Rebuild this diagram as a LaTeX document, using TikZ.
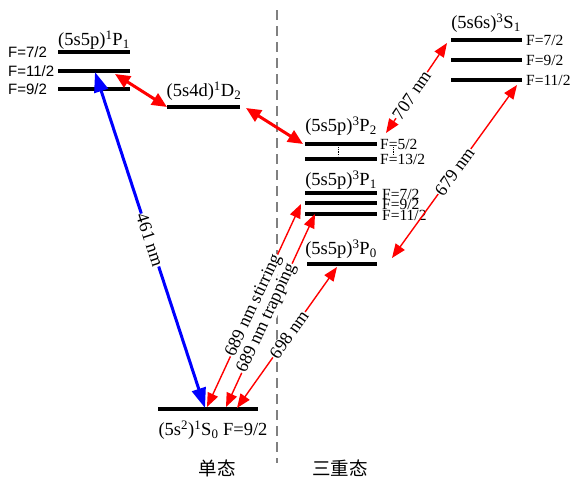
\documentclass[tikz,border=0pt]{standalone}
\usepackage{fontspec}
\setmainfont{Liberation Serif}
\newfontfamily\cjk{Noto Sans CJK SC}
\newfontfamily\arialf{Liberation Sans}
\usetikzlibrary{arrows.meta}
\begin{document}
\begin{tikzpicture}[x=1pt,y=-1pt,
  lvl/.style={line width=3.5pt},
  lab/.style={font=\fontsize{18.5}{20}\selectfont, inner sep=0pt},
  flab/.style={font=\fontsize{15.5}{16}\selectfont, inner sep=0pt, anchor=west},
  slab/.style={font=\arialf\fontsize{15}{16}\selectfont, inner sep=0pt, anchor=west},
  thinred/.style={red, line width=1.4pt, {Triangle[length=14pt,width=11pt]}-{Triangle[length=14pt,width=11pt]}},
  thickred/.style={red, line width=3pt, {Triangle[length=15pt,width=13pt]}-{Triangle[length=15pt,width=13pt]}},
  bluearr/.style={blue, line width=3pt, {Triangle[length=20pt,width=14pt]}-{Triangle[length=20pt,width=14pt]}},
  wl/.style={font=\fontsize{18}{20}\selectfont, text=black, fill=white, sloped, inner sep=0.5pt}
]
\useasboundingbox (0,0) rectangle (572,482);
% separator
\draw[gray, line width=1.3pt, dash pattern=on 10pt off 6pt] (277,10) -- (277,463);
\node[lab] (single) at (217,468) {\cjk 单态};
\node[lab] (triple) at (340,468) {\cjk 三重态};
% 1P1
\draw[lvl] (58,52) -- (130,52);
\draw[lvl] (58,71) -- (130,71);
\draw[lvl] (58,89) -- (130,89);
\node[lab] (P1lab) at (94,40) {(5s5p)\textsuperscript{1}P\textsubscript{1}};
\node[slab] (P1f1) at (8,52) {F=7/2};
\node[slab] (P1f2) at (8,71) {F=11/2};
\node[slab] (P1f3) at (8,89) {F=9/2};
% 1D2
\draw[lvl] (167,107) -- (240,107);
\node[lab] (D2lab) at (204,91) {(5s4d)\textsuperscript{1}D\textsubscript{2}};
% 3S1
\draw[lvl] (451,40) -- (522,40);
\draw[lvl] (451,60) -- (522,60);
\draw[lvl] (451,80) -- (522,80);
\node[lab] (S1lab) at (486,23) {(5s6s)\textsuperscript{3}S\textsubscript{1}};
\node[flab] (S1f1) at (526,40) {F=7/2};
\node[flab] (S1f2) at (526,60) {F=9/2};
\node[flab] (S1f3) at (526,80) {F=11/2};
% 3P2
\draw[lvl] (305,144) -- (377,144);
\draw[lvl] (305,159) -- (377,159);
\draw[densely dotted, line width=0.8pt] (338,147) -- (338,156);
\node[lab] (P2lab) at (341,126) {(5s5p)\textsuperscript{3}P\textsubscript{2}};
\node[flab] (P2f1) at (380,144) {F=5/2};
\node[flab] (P2f2) at (380,159) {F=13/2};
\draw[densely dotted, line width=0.8pt] (393,147) -- (393,155);
% 3P1
\draw[lvl] (305,193) -- (377,193);
\draw[lvl] (305,203) -- (377,203);
\draw[lvl] (305,214) -- (377,214);
\node[lab] (P1tlab) at (341,180) {(5s5p)\textsuperscript{3}P\textsubscript{1}};
\node[flab] (P1tf1) at (382,194) {F=7/2};
\node[flab] (P1tf2) at (382,204) {F=9/2};
\node[flab] (P1tf3) at (382,215) {F=11/2};
% 3P0
\draw[lvl] (307,264) -- (377,264);
\node[lab] (P0lab) at (341,249) {(5s5p)\textsuperscript{3}P\textsubscript{0}};
% 1S0
\draw[lvl] (158,409) -- (258,409);
\node[lab] (S0lab) at (213,430) {(5s\textsuperscript{2})\textsuperscript{1}S\textsubscript{0} F=9/2};
% arrow end points
\coordinate (bP) at (95,72);
\coordinate (bS) at (205,408);
\coordinate (rP) at (115,74);
\coordinate (rD) at (167,107);
\coordinate (rD2) at (246,108);
\coordinate (rP2) at (303,144);
\coordinate (a707b) at (386,133);
\coordinate (a707t) at (447,43);
\coordinate (a679t) at (517,85);
\coordinate (a679b) at (392,258);
\coordinate (sb) at (207,407);
\coordinate (st) at (301,204);
\coordinate (tb) at (226,407);
\coordinate (tt) at (315,214);
\coordinate (cb) at (237,408);
\coordinate (ct) at (337,267);
% arrows
\draw[bluearr] (bP) -- node[wl, pos=0.5] (l461) {461 nm} (bS);
\draw[thickred] (rP) -- (rD);
\draw[thickred] (rD2) -- (rP2);
\draw[thinred] (a707b) -- node[wl, pos=0.42] (l707) {707 nm} (a707t);
\draw[thinred] (a679b) -- node[wl, pos=0.5] (l679) {679 nm} (a679t);
\draw[thinred] (sb) -- node[wl, pos=0.5] (lst) {689 nm stirring} (st);
\draw[thinred] (tb) -- node[wl, pos=0.46] (ltr) {689 nm trapping} (tt);
\draw[thinred] (cb) -- node[wl, pos=0.52] (l698) {698 nm} (ct);
\end{tikzpicture}
\end{document}
